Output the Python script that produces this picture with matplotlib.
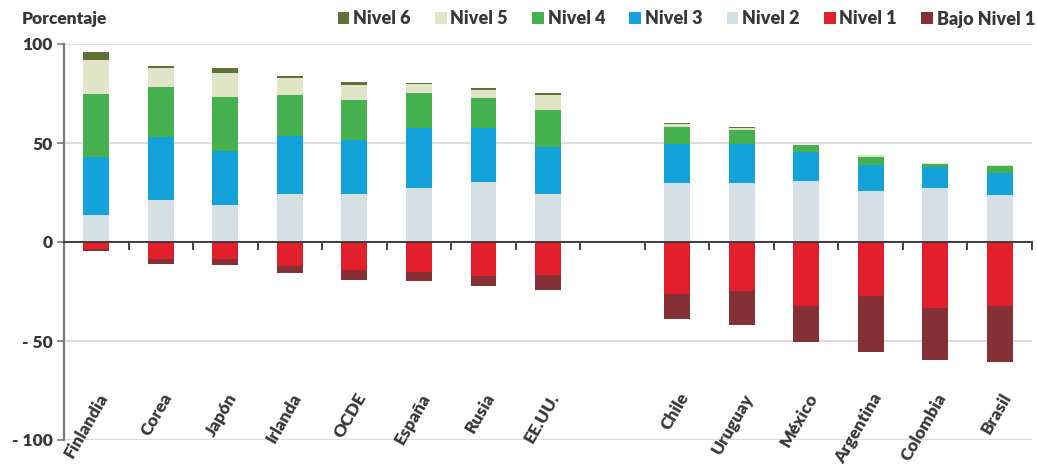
import numpy as np
import matplotlib
matplotlib.use('Agg')
import matplotlib.pyplot as plt
from matplotlib.patches import Patch
from matplotlib.transforms import blended_transform_factory

plt.rcParams['font.family'] = ['Lato', 'DejaVu Sans']

#%% datos
paises = ['Finlandia', 'Corea', 'Japón', 'Irlanda', 'OCDE', 'España', 'Rusia', 'EE.UU.',
          'Chile', 'Uruguay', 'México', 'Argentina', 'Colombia', 'Brasil']
n2 = [13.6, 21.2, 18.5, 24.0, 24.0, 27.4, 30.2, 24.2, 29.9, 29.7, 30.8, 25.6, 27.2, 23.8]
n3 = [29.1, 31.8, 27.5, 29.7, 27.4, 30.2, 27.6, 24.0, 19.7, 19.6, 14.8, 13.1, 10.6, 11.3]
n4 = [32.2, 25.5, 27.0, 20.7, 20.3, 17.9, 14.9, 18.3, 8.4, 7.1, 3.2, 4.4, 1.8, 3.4]
n5 = [17.0, 9.2, 12.4, 8.3, 7.7, 4.5, 4.2, 7.5, 1.4, 1.4, 0.3, 0.7, 0.4, 0.5]
n6 = [3.9, 1.1, 2.6, 1.1, 1.3, 0.3, 0.8, 1.5, 0.5, 0.3, 0.0, 0.0, 0.0, 0.0]
n1 = [3.4, 8.5, 8.6, 12.0, 14.0, 14.9, 17.0, 16.6, 26.4, 24.9, 32.4, 27.4, 33.4, 32.4]
bajo = [0.9, 2.5, 3.2, 3.5, 5.0, 4.6, 5.0, 7.4, 12.4, 17.1, 18.1, 28.1, 26.1, 28.1]

yticks = [100, 50, 0, -50, -100]
yticklabels = ['100', '50', '0', '- 50', '- 100']

nombres = ['Nivel 6', 'Nivel 5', 'Nivel 4', 'Nivel 3', 'Nivel 2', 'Nivel 1', 'Bajo Nivel 1']
colores = ['#5e7237', '#e1e5c7', '#46b24f', '#14a2db', '#d5e0e6', '#e31f2b', '#843034']

#%% figura
txt = '#383838'
fig = plt.figure(figsize=(10.37, 4.68), dpi=100)
ax = fig.add_axes([64/1037, 1 - 440/468, (1032 - 64)/1037, (440 - 44)/468])

# posiciones con un hueco entre los dos grupos
pos = np.delete(np.arange(len(paises) + 1), 8)
w = 0.4

positivos = [n2, n3, n4, n5, n6]
col_pos = [colores[4], colores[3], colores[2], colores[1], colores[0]]
base = np.zeros(len(paises))
for v, c in zip(positivos, col_pos):
    ax.bar(pos, v, w, bottom=base, color=c, zorder=3)
    base = base + np.array(v)

base = np.zeros(len(paises))
for v, c in zip([n1, bajo], [colores[5], colores[6]]):
    ax.bar(pos, -np.array(v), w, bottom=base, color=c, zorder=3)
    base = base - np.array(v)

ax.set_xlim(-0.5, len(paises) + 0.5)
ax.set_ylim(-100, 100)

for s in ['top', 'right']:
    ax.spines[s].set_visible(False)
ax.spines['left'].set_color('#7a7a7a')
ax.spines['left'].set_linewidth(1.6)
ax.spines['bottom'].set_position(('data', 0))
ax.spines['bottom'].set_color('#333333')
ax.spines['bottom'].set_linewidth(1.3)
ax.spines['bottom'].set_zorder(4)

ax.set_xticks(np.arange(len(paises) + 1) + 0.5)
ax.tick_params(axis='x', direction='out', length=6, width=1.3, color='#333333',
               labelbottom=False)
ax.set_yticks(yticks)
ax.set_yticklabels(yticklabels, fontsize=12.5, fontweight='heavy', color=txt)
ax.tick_params(axis='y', length=5, width=1.2, color='#7a7a7a', pad=3)
ax.yaxis.grid(True, color='#dcdcdc', linewidth=1.5)
ax.set_axisbelow(True)

# etiquetas de los paises
tr = blended_transform_factory(ax.transData, ax.transData)
for p, n in zip(pos, paises):
    ax.text(p + 0.12, -77, n, rotation=60, ha='right', va='center',
            rotation_mode='anchor', fontsize=12.5, fontweight='heavy', color=txt,
            transform=tr)

fig.text(22/1037, 1 - 19/468, 'Porcentaje', fontsize=12.5, fontweight='heavy',
         color=txt, ha='left', va='center')

handles = [Patch(facecolor=c, edgecolor='none', label=n) for n, c in zip(nombres, colores)]
fig.legend(handles=handles, loc='center right', bbox_to_anchor=(1035/1037, 1 - 19/468),
           ncol=7, frameon=False, handlelength=0.65, handleheight=0.65,
           handletextpad=0.2, columnspacing=1.35, borderaxespad=0, borderpad=0,
           prop={'size': 13, 'weight': 'heavy'}, labelcolor=txt)

fig.savefig('out.png', dpi=100)
